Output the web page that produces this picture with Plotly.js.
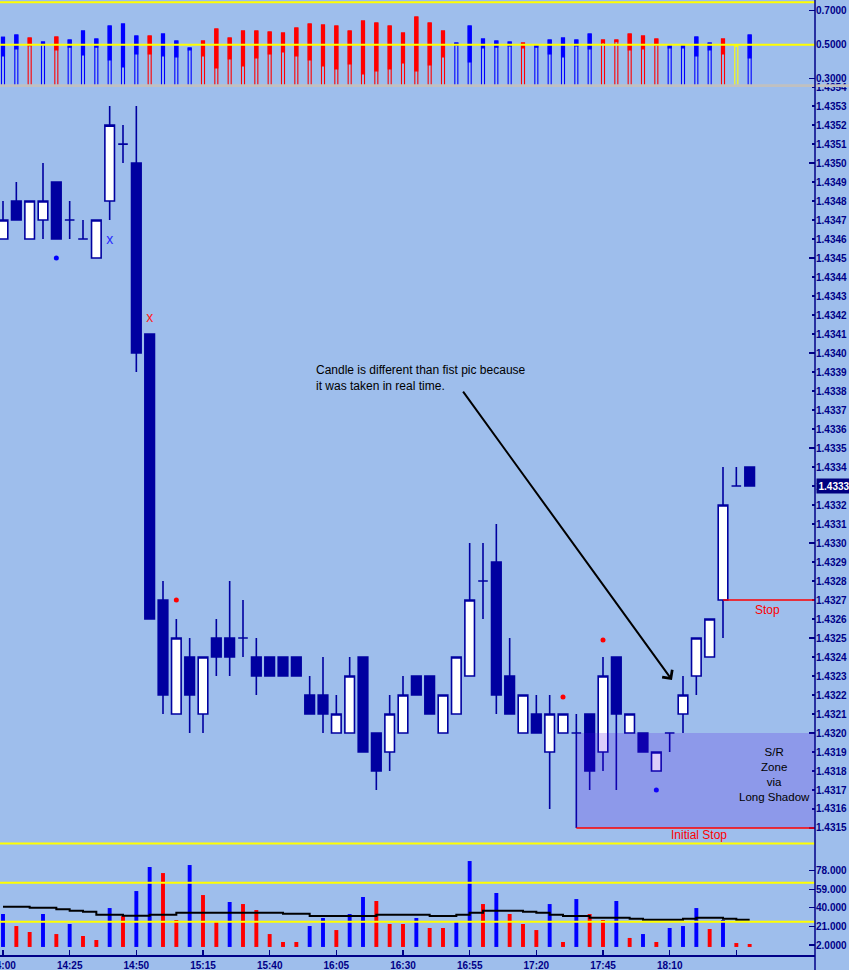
<!DOCTYPE html>
<html>
<head>
<meta charset="utf-8">
<script src="https://cdn.plot.ly/plotly-3.0.1.min.js"></script>
<style>
html,body{margin:0;padding:0;background:#9EBEEC;}
#chart{width:849px;height:970px;}
</style>
</head>
<body>
<div id="chart"></div>
<script>
// ---------- DATA ----------
const DAY = '2024-01-02 ';
const times = ['14:00','14:05','14:10','14:15','14:20','14:25','14:30','14:35','14:40','14:45','14:50','14:55',
  '15:00','15:05','15:10','15:15','15:20','15:25','15:30','15:35','15:40','15:45','15:50','15:55',
  '16:00','16:05','16:10','16:15','16:20','16:25','16:30','16:35','16:40','16:45','16:50','16:55',
  '17:00','17:05','17:10','17:15','17:20','17:25','17:30','17:35','17:40','17:45','17:50','17:55',
  '18:00','18:05','18:10','18:15','18:20','18:25','18:30','18:35','18:40'];

const openP  = [1.4346,1.4348,1.4346,1.4347,1.4349,1.4347,1.4346,1.4345,1.4348,1.4351,1.4350,1.4341,
  1.4327,1.4321,1.4324,1.4321,1.4325,1.4325,1.4325,1.4324,1.4324,1.4324,1.4324,1.4322,
  1.4322,1.4320,1.4320,1.4324,1.4320,1.4319,1.4320,1.4323,1.4323,1.4320,1.4321,1.4323,
  1.4328,1.4329,1.4323,1.4320,1.4321,1.4319,1.4320,1.4320,1.4321,1.4319,1.4324,1.4320,
  1.4320,1.4318,1.4320,1.4321,1.4323,1.4324,1.4327,1.4333,1.4334];
const highP  = [1.4348,1.4349,1.4348,1.4350,1.4349,1.4348,1.4347,1.4347,1.4353,1.4352,1.4353,1.4341,
  1.4328,1.4326,1.4325,1.4324,1.4326,1.4328,1.4327,1.4325,1.4324,1.4324,1.4324,1.4323,
  1.4324,1.4322,1.4324,1.4324,1.4320,1.4322,1.4323,1.4323,1.4323,1.4322,1.4324,1.4330,
  1.4330,1.4331,1.4325,1.4322,1.4322,1.4322,1.4321,1.4321,1.4321,1.4324,1.4324,1.4321,
  1.4320,1.4319,1.4320,1.4323,1.4325,1.4326,1.4334,1.4334,1.4334];
const lowP   = [1.4346,1.4347,1.4346,1.4346,1.4346,1.4346,1.4346,1.4345,1.4347,1.4350,1.4339,1.4326,
  1.4321,1.4321,1.4320,1.4320,1.4323,1.4323,1.4324,1.4322,1.4323,1.4323,1.4323,1.4321,
  1.4320,1.4320,1.4320,1.4319,1.4317,1.4318,1.4320,1.4322,1.4321,1.4320,1.4321,1.4323,
  1.4326,1.4321,1.4321,1.4320,1.4320,1.4316,1.4320,1.4315,1.4317,1.4318,1.4317,1.4320,
  1.4319,1.4318,1.4319,1.4320,1.4322,1.4324,1.4325,1.4333,1.4333];
const closeP = [1.4347,1.4347,1.4348,1.4348,1.4346,1.4347,1.4346,1.4347,1.4352,1.4351,1.4340,1.4326,
  1.4322,1.4325,1.4322,1.4324,1.4324,1.4324,1.4325,1.4323,1.4323,1.4323,1.4323,1.4321,
  1.4321,1.4321,1.4323,1.4319,1.4318,1.4321,1.4322,1.4322,1.4321,1.4322,1.4324,1.4327,
  1.4328,1.4322,1.4321,1.4322,1.4320,1.4321,1.4321,1.4320,1.4318,1.4323,1.4321,1.4321,
  1.4319,1.4319,1.4320,1.4322,1.4325,1.4326,1.4332,1.4333,1.4333];

// upper indicator: bar top, start of filled part, colour code
const oscTop  = [0.5435,0.557,0.539,0.516,0.545,0.528,0.581,0.533,0.610,0.622,0.551,0.551,0.563,0.522,0.481,0.522,
  0.592,0.539,0.581,0.581,0.575,0.569,0.598,0.622,0.616,0.610,0.581,0.639,0.628,0.610,0.569,0.663,
  0.628,0.581,0.510,0.610,0.533,0.522,0.516,0.510,0.498,0.528,0.539,0.528,0.563,0.528,0.528,0.563,
  0.551,0.533,0.498,0.498,0.545,0.510,0.533,0.492,0.557];
const oscFill = [0.4335,0.475,0.494,0.500,0.469,0.486,0.439,0.486,0.410,0.369,0.445,0.445,0.434,0.428,0.469,0.434,
  0.363,0.416,0.375,0.422,0.445,0.457,0.434,0.410,0.375,0.357,0.387,0.328,0.345,0.357,0.392,0.345,
  0.381,0.428,0.498,0.398,0.481,0.486,0.492,0.481,0.486,0.445,0.428,0.492,0.475,0.510,0.518,0.469,
  0.475,0.498,0.481,0.481,0.434,0.469,0.445,0.492,0.422];
const oscColor = ['b','b','r','b','r','b','b','b','b','b','b','r','b','b','b','r',
  'r','r','r','r','r','r','r','r','r','r','r','r','r','r','r','r',
  'r','r','b','b','b','b','b','r','b','b','b','b','b','r','r','r',
  'r','r','b','b','b','b','r','y','b'];
const oscTickVals = [0.3,0.5,0.7];
const oscTickText = ['0.3000','0.5000','0.7000'];
const oscLevels = [0.75,0.5];

// volume panel
const volume = [33.7,21.4,15.3,33.7,13.2,23.5,11.2,7.1,39.8,31.6,57.2,81.8,75.6,27.6,83.8,53.1,25.5,46.0,43.9,37.8,
  13.2,5.1,5.1,21.4,29.6,17.3,33.7,51.1,47.0,23.5,23.5,29.6,19.4,19.4,25.5,87.9,43.9,55.2,33.7,23.5,
  17.3,43.9,5.1,49.0,33.7,27.6,47.0,9.2,13.2,5.1,19.4,21.4,39.8,18.4,27.6,4.0,3.0];
const volColor = ['b','r','r','b','r','b','r','r','b','r','b','b','r','r','b','r','r','b','r','r',
  'r','r','r','b','b','r','b','b','r','r','r','b','r','r','b','b','r','b','r','r',
  'r','b','r','b','r','r','b','r','b','r','b','b','b','r','b','r','r'];
const volAvg = [41.2,41.2,40.1,40.1,38.5,37.1,36.0,33.0,33.0,32.0,32.0,33.0,33.0,35.0,35.0,35.0,35.0,35.0,35.0,35.0,
  35.0,34.0,34.0,31.6,31.6,31.6,31.6,31.6,33.0,33.0,33.0,33.0,31.6,31.6,33.0,35.0,37.1,37.1,37.1,36.0,
  35.0,33.0,31.6,31.6,29.9,29.9,29.9,28.9,27.9,27.9,27.9,28.9,29.9,29.9,28.9,27.9,27.9];
const volTickVals = [2,21,40,59,78];
const volTickText = ['2.0000','21.000','40.000','59.000','78.000'];
const volLevels = [65.7,25.8];

// x axis ticks
const xTickTimes  = ['14:00','14:25','14:50','15:15','15:40','16:05','16:30','16:55','17:20','17:45','18:10','18:35'];
const xTickLabels = ['14:00','14:25','14:50','15:15','15:40','16:05','16:30','16:55','17:20','17:45','18:10',''];

// signal markers
const crossTimes = ['14:40','14:55'];
const crossPrices = [1.43459,1.43418];
const crossColors = ['#2a2aff','#ff2020'];
const dotTimes = ['14:20','15:05','17:30','17:45','18:05'];
const dotPrices = [1.4345,1.4327,1.43219,1.43249,1.4317];
const dotColors = ['#0000ff','#ff0000','#ff0000','#ff0000','#0000ff'];

// levels
const zoneStart = '17:35';
const zoneLow = 1.4315, zoneHigh = 1.4320;
const stopStart = '18:30';
const stopLevel = 1.4327;
const lastPrice = 1.4333;

// ---------- STYLE ----------
const BG = '#9EBEEC';
const NAVY = '#0000A0';
const AXC = '#000088';
const COL = {b:'#0000FF', r:'#FF0000', y:'#FFFF00'};
const FONT = 'Liberation Sans, Arial, sans-serif';
const X = t => DAY + t;
const xs = times.map(X);
const xRange = [DAY + '13:58:52.5', DAY + '19:04:30'];

const traces = [];
traces.push({
  type:'candlestick', x: xs, open: openP, high: highP, low: lowP, close: closeP,
  xaxis:'x', yaxis:'y', whiskerwidth: 0, hoverinfo:'skip',
  increasing:{line:{color:NAVY,width:1.6}, fillcolor:'#FFFFFF'},
  decreasing:{line:{color:NAVY,width:1.6}, fillcolor:NAVY},
  showlegend:false
});
traces.push({
  type:'scatter', mode:'text', x: crossTimes.map(X), y: crossPrices, text: crossTimes.map(()=> 'x'),
  textfont:{family:FONT, size:14, color: crossColors}, textposition:'middle center',
  xaxis:'x', yaxis:'y', hoverinfo:'skip', showlegend:false
});
traces.push({
  type:'scatter', mode:'markers', x: dotTimes.map(X), y: dotPrices,
  marker:{size:5, color: dotColors}, xaxis:'x', yaxis:'y', hoverinfo:'skip', showlegend:false
});
// upper indicator: hollow outline + filled part
traces.push({
  type:'bar', x: xs, y: oscTop, width: 68000, xaxis:'x', yaxis:'y2',
  marker:{color:'rgba(0,0,0,0)', line:{color: oscColor.map(c=>COL[c]), width:1.1}},
  hoverinfo:'skip', showlegend:false
});
traces.push({
  type:'bar', x: xs, base: oscFill, y: oscTop.map((t,i)=> t - oscFill[i]), width: 68000, xaxis:'x', yaxis:'y2',
  marker:{color: oscColor.map(c=>COL[c]), line:{color: oscColor.map(c=>COL[c]), width:1.1}},
  hoverinfo:'skip', showlegend:false
});
// volume
traces.push({
  type:'bar', x: xs, y: volume, width: 88000, xaxis:'x', yaxis:'y3',
  marker:{color: volColor.map(c=>COL[c]), line:{width:0}}, hoverinfo:'skip', showlegend:false
});
traces.push({
  type:'scatter', mode:'lines', x: xs, y: volAvg, xaxis:'x', yaxis:'y3',
  line:{color:'#000000', width:2, shape:'hv'}, hoverinfo:'skip', showlegend:false
});
// dummy for major-tick overlay axis
traces.push({type:'scatter', mode:'markers', x:[xs[0]], y:[1.4330], xaxis:'x', yaxis:'y4',
  marker:{opacity:0}, hoverinfo:'skip', showlegend:false});

const H = 955; // plot-area height in px
const dVolTop = 112 / H, dPriceTop = 870 / H;
const priceRange = [1.431421, 1.435411];
const tickFont = {family: FONT, size: 10, color: AXC, weight: 'bold'};

const shapes = [];
// S/R zone
shapes.push({type:'rect', xref:'x', yref:'y', x0: X(zoneStart), x1: xRange[1], y0: zoneLow, y1: zoneHigh,
  fillcolor:'rgb(74,5,231)', opacity:0.2, line:{width:0}, layer:'above'});
shapes.push({type:'line', xref:'x', yref:'y', x0: X(zoneStart), x1: xRange[1], y0: zoneLow, y1: zoneLow,
  line:{color:'#FF0000', width:1.5}, layer:'above'});
shapes.push({type:'line', xref:'x', yref:'y', x0: X(stopStart), x1: xRange[1], y0: stopLevel, y1: stopLevel,
  line:{color:'#FF0000', width:1.5}, layer:'above'});
// yellow levels
oscLevels.forEach(v => shapes.push({type:'line', xref:'paper', yref:'y2', x0:0, x1:1, y0:v, y1:v,
  line:{color:'#FFFF00', width:2}, layer:'above'}));
shapes.push({type:'line', xref:'paper', yref:'y3 domain', x0:0, x1:1, y0:0.995, y1:0.995,
  line:{color:'#FFFF00', width:2}, layer:'above'});
volLevels.forEach(v => shapes.push({type:'line', xref:'paper', yref:'y3', x0:0, x1:1, y0:v, y1:v,
  line:{color:'#FFFF00', width:2}, layer:'above'}));
// grey separator under upper panel
shapes.push({type:'rect', xref:'paper', yref:'paper', x0:0, x1:1.05, y0:(H-87)/H, y1:(H-84.3)/H,
  fillcolor:'#C0C0C0', line:{width:0}, layer:'above'});
// right axis line full height
shapes.push({type:'line', xref:'paper', yref:'paper', x0:1, x1:1, y0:-0.02, y1:1,
  line:{color:AXC, width:1.5}, layer:'above'});

const annotations = [
  {xref:'x', yref:'y', x: DAY+'15:56:40', y: 1.43387, xanchor:'left', yanchor:'middle', align:'left', showarrow:false,
   text:'Candle is different than fist pic because<br>it was taken in real time.',
   font:{family:FONT, size:12, color:'#000000'}},
  {xref:'x', yref:'y', axref:'x', ayref:'y', x: DAY+'18:10:52', y: 1.432279, ax: DAY+'16:52:08', ay: 1.433805,
   text:'', showarrow:true, arrowhead:4, arrowsize:1.2, arrowwidth:2, arrowcolor:'#000000'},
  {xref:'x', yref:'y', x: DAY+'18:46:30', y: 1.432647, text:'Stop', showarrow:false,
   font:{family:FONT, size:12, color:'#FF0000'}},
  {xref:'x', yref:'y', x: DAY+'18:21:00', y: 1.431463, text:'Initial Stop', showarrow:false,
   font:{family:FONT, size:12, color:'#FF0000'}},
  {xref:'x', yref:'y', x: DAY+'18:49:08', y: 1.431779, text:'S/R<br>Zone<br>via<br>Long Shadow', showarrow:false,
   align:'center', font:{family:FONT, size:11.5, color:'#000000'}},
  {xref:'paper', yref:'y', x:1, y: lastPrice, xanchor:'left', yanchor:'middle', xshift:1, showarrow:false,
   text: lastPrice.toFixed(4), bgcolor:'#000080', borderpad:1.5,
   font:{family:FONT, size:10, color:'#FFFFFF', weight:'bold'}}
];

const layout = {
  width: 849, height: 970,
  margin: {l:0, r:34, t:0, b:15, pad:0},
  paper_bgcolor: BG, plot_bgcolor: BG,
  showlegend: false,
  barmode: 'overlay',
  boxgap: 0.28, boxgroupgap: 0,
  xaxis: {
    type:'date', range: xRange, anchor:'y3', domain:[0,1],
    tickmode:'array', tickvals: xTickTimes.map(X), ticktext: xTickLabels,
    ticks:'inside', ticklen:5, tickwidth:1.3, tickcolor: AXC, ticklabeloverflow:'allow',
    showline:true, linecolor: AXC, linewidth:1.5, mirror:false,
    showgrid:false, zeroline:false, tickfont:{family:FONT, size:10, color:AXC, weight:'bold'},
    rangeslider:{visible:false}, fixedrange:true
  },
  yaxis: {
    domain:[dVolTop, dPriceTop], range: priceRange, side:'right', anchor:'x',
    tickmode:'linear', tick0:1.43, dtick:0.0001, tickformat:'.4f',
    ticks:'inside', ticklen:3, tickwidth:1.3, tickcolor:AXC, tickfont: tickFont,
    showgrid:false, zeroline:false, showline:false, fixedrange:true
  },
  yaxis4: {
    overlaying:'y', range: priceRange, side:'right', anchor:'x',
    tickmode:'linear', tick0:1.43, dtick:0.0005, showticklabels:false,
    ticks:'inside', ticklen:6, tickwidth:1.3, tickcolor:AXC,
    showgrid:false, zeroline:false, showline:false, fixedrange:true
  },
  yaxis2: {
    domain:[dPriceTop, 1], range:[0.2630, 0.7629], side:'right', anchor:'x',
    tickmode:'array', tickvals: oscTickVals, ticktext: oscTickText,
    ticks:'inside', ticklen:6, tickwidth:1.3, tickcolor:AXC, tickfont: tickFont,
    showgrid:false, zeroline:false, showline:false, fixedrange:true
  },
  yaxis3: {
    domain:[0, dVolTop], range:[-8.23, 106.34], side:'right', anchor:'x',
    tickmode:'array', tickvals: volTickVals, ticktext: volTickText,
    ticks:'inside', ticklen:6, tickwidth:1.3, tickcolor:AXC, tickfont: tickFont,
    showgrid:false, zeroline:false, showline:false, fixedrange:true
  },
  shapes: shapes,
  annotations: annotations
};

Plotly.newPlot('chart', traces, layout, {displayModeBar:false, staticPlot:true});
</script>
</body>
</html>
